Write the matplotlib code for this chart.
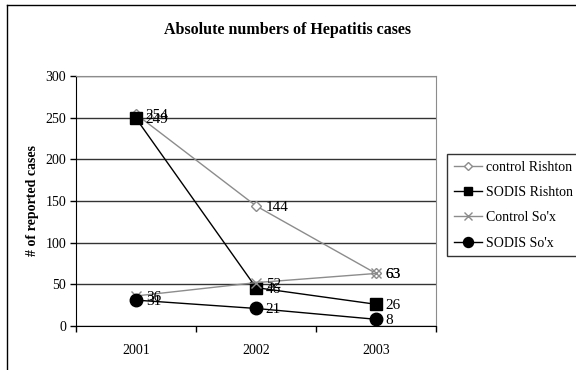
import matplotlib.pyplot as plt
from matplotlib.lines import Line2D

years = ['2001', '2002', '2003']
control_rishton = [254, 144, 63]
sodis_rishton = [249, 46, 26]
control_sox = [36, 52, 63]
sodis_sox = [31, 21, 8]

plt.rcParams['font.family'] = ['Liberation Serif', 'DejaVu Serif']

fig = plt.figure(figsize=(5.76, 3.70), dpi=100)
ax = fig.add_axes([0.132, 0.119, 0.625, 0.676])

x = list(range(len(years)))
series = [
    ('control Rishton', control_rishton, dict(color='#8c8c8c', marker='D', ms=5, mfc='white', mec='#8c8c8c', lw=1)),
    ('SODIS Rishton', sodis_rishton, dict(color='black', marker='s', ms=8, mfc='black', mec='black', lw=1)),
    ("Control So'x", control_sox, dict(color='#8c8c8c', marker='x', ms=7, mew=1, lw=1)),
    ("SODIS So'x", sodis_sox, dict(color='black', marker='o', ms=9, mfc='black', mec='black', lw=1)),
]
for name, vals, style in series:
    ax.plot(x, vals, label=name, zorder=3, **style)
    for xi, v in zip(x, vals):
        ax.annotate(str(v), (xi, v), xytext=(7, -1), textcoords='offset points',
                    va='center', ha='left', fontsize=11, zorder=4)

ax.set_xlim(-0.5, 2.5)
ax.set_ylim(0, 300)
ax.set_yticks(range(0, 301, 50))
ax.tick_params(axis='y', labelsize=10, direction='out', length=4, width=1, color='black', pad=3)
ax.set_xticks(x)
ax.set_xticklabels(years, fontsize=10)
ax.tick_params(axis='x', length=0, pad=13)
ax.set_xticks([-0.5, 0.5, 1.5, 2.5], minor=True)
ax.tick_params(axis='x', which='minor', direction='out', length=4, width=1, color='black')
ax.grid(axis='y', color='#333333', lw=1)
ax.set_axisbelow(True)
for side in ['top', 'right']:
    ax.spines[side].set_color('#8c8c8c')
for side in ['left', 'bottom']:
    ax.spines[side].set_color('black')
ax.set_ylabel('# of reported cases', fontsize=10, fontweight='bold', labelpad=5)

fig.text(0.5, 0.918, 'Absolute numbers of Hepatitis cases', ha='center', va='center',
         fontsize=11.5, fontweight='bold')

leg = fig.legend(loc='upper left', bbox_to_anchor=(0.776, 0.584), fontsize=10,
                 frameon=True, fancybox=False, edgecolor='black', handlelength=2.0,
                 markerscale=0.8, borderpad=0.5, labelspacing=0.88, handletextpad=0.3,
                 borderaxespad=0)
leg.get_frame().set_linewidth(1)

# outer chart border
fig.add_artist(Line2D([0.012, 0.012], [0, 0.986], transform=fig.transFigure, color='black', lw=1))
fig.add_artist(Line2D([0.012, 1], [0.986, 0.986], transform=fig.transFigure, color='black', lw=1))

fig.savefig('out.png', dpi=100)
